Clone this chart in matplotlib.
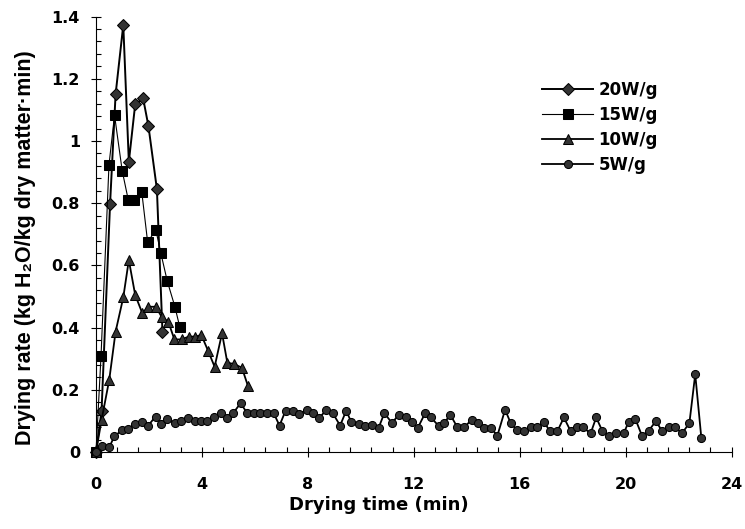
import matplotlib
matplotlib.use("Agg")
import matplotlib.pyplot as plt
from matplotlib.ticker import MultipleLocator, FixedLocator

# ---------------- data ----------------
t20 = [0, 0.21, 0.53, 0.74, 1.03, 1.24, 1.48, 1.78, 1.98, 2.30, 2.51]
r20 = [0, 0.132, 0.796, 1.150, 1.373, 0.933, 1.118, 1.137, 1.048, 0.845, 0.387]

t15 = [0, 0.19, 0.49, 0.70, 0.99, 1.22, 1.44, 1.73, 1.95, 2.26, 2.45, 2.69, 2.98, 3.16]
r15 = [0, 0.309, 0.923, 1.083, 0.904, 0.810, 0.810, 0.835, 0.675, 0.714, 0.639, 0.550, 0.467, 0.403]

t10 = [0, 0.21, 0.50, 0.74, 1.03, 1.24, 1.48, 1.75, 1.98, 2.26, 2.49, 2.73, 2.96, 3.23,
       3.50, 3.73, 3.98, 4.23, 4.48, 4.76, 4.96, 5.21, 5.51, 5.74]
r10 = [0, 0.103, 0.232, 0.387, 0.497, 0.617, 0.505, 0.446, 0.467, 0.467, 0.433, 0.419, 0.362, 0.362,
       0.371, 0.371, 0.376, 0.326, 0.274, 0.382, 0.287, 0.283, 0.271, 0.212]

t5 = [0, 0.21, 0.5, 0.69, 0.98, 1.19, 1.46, 1.72, 1.97, 2.25, 2.47, 2.69, 2.98,
      3.21, 3.48, 3.72, 3.96, 4.21, 4.45, 4.72, 4.95, 5.19, 5.46, 5.71, 5.96, 6.21, 6.46, 6.71, 6.93,
      7.16, 7.44, 7.66, 7.96, 8.19, 8.42, 8.69, 8.94, 9.22, 9.45, 9.63, 9.92, 10.16,
      10.42, 10.67, 10.89, 11.18, 11.43, 11.71, 11.93, 12.15, 12.43, 12.65, 12.94,
      13.15, 13.38, 13.65, 13.90, 14.19, 14.41, 14.66, 14.91, 15.16, 15.45, 15.66, 15.89,
      16.16, 16.42, 16.67, 16.92, 17.14, 17.42, 17.67, 17.92, 18.17, 18.39, 18.68, 18.89,
      19.12, 19.39, 19.64, 19.93,
      20.12, 20.37, 20.62, 20.87, 21.15, 21.38, 21.63, 21.88, 22.13, 22.41, 22.63, 22.86]
r5 = [0, 0.02, 0.015, 0.05, 0.07, 0.073, 0.09, 0.095, 0.085, 0.114, 0.09, 0.105, 0.093,
      0.10, 0.108, 0.10, 0.10, 0.10, 0.112, 0.126, 0.11, 0.126, 0.157, 0.125, 0.125, 0.125, 0.125, 0.125, 0.085,
      0.133, 0.133, 0.123, 0.134, 0.125, 0.109, 0.134, 0.125, 0.085, 0.133, 0.098, 0.09, 0.084,
      0.086, 0.077, 0.125, 0.093, 0.12, 0.111, 0.098, 0.077, 0.125, 0.111, 0.084,
      0.093, 0.12, 0.079, 0.079, 0.104, 0.093, 0.077, 0.077, 0.053, 0.136, 0.093, 0.071,
      0.066, 0.08, 0.08, 0.098, 0.066, 0.066, 0.111, 0.068, 0.079, 0.079, 0.06, 0.111,
      0.068, 0.052, 0.06, 0.06,
      0.098, 0.106, 0.052, 0.068, 0.10, 0.066, 0.079, 0.079, 0.06, 0.093, 0.25, 0.046]

labels = ["20W/g", "15W/g", "10W/g", "5W/g"]
xticks = [0, 4, 8, 12, 16, 20, 24]
yticks = [0, 0.2, 0.4, 0.6, 0.8, 1.0, 1.2, 1.4]
yticklabels = ["0", "0.2", "0.4", "0.6", "0.8", "1", "1.2", "1.4"]

# ---------------- figure ----------------
fig = plt.figure(figsize=(7.45, 5.29), dpi=100)
ax = fig.add_axes([96 / 745, 1 - 452 / 529, 635.5 / 745, 435.4 / 529])

fill = "#333333"
ax.plot(t20, r20, color="black", lw=1.4, marker="D", ms=5.8, mfc=fill, mec="black",
        mew=0.75, clip_on=False, label=labels[0], zorder=3)
ax.plot(t15, r15, color="black", lw=0.8, marker="s", ms=7.2, mfc="black", mec="black",
        mew=0.75, clip_on=False, label=labels[1], zorder=4)
ax.plot(t10, r10, color="black", lw=1.3, marker="^", ms=7.2, mfc=fill, mec="black",
        mew=0.75, clip_on=False, label=labels[2], zorder=5)
ax.plot(t5, r5, color="black", lw=1.3, marker="o", ms=5.8, mfc=fill, mec="black",
        mew=0.75, clip_on=False, label=labels[3], zorder=6)

ax.set_xlim(0, 24)
ax.set_ylim(0, 1.4)
for s in ["top", "right"]:
    ax.spines[s].set_visible(False)
for s in ["left", "bottom"]:
    ax.spines[s].set_linewidth(0.8)

ax.xaxis.set_major_locator(FixedLocator(xticks))
ax.xaxis.set_minor_locator(MultipleLocator(0.8))
ax.yaxis.set_major_locator(FixedLocator(yticks))
ax.yaxis.set_minor_locator(MultipleLocator(0.04))
ax.set_xticklabels([str(v) for v in xticks])
ax.set_yticklabels(yticklabels)

for lab in ax.get_xticklabels() + ax.get_yticklabels():
    lab.set_fontfamily("DejaVu Sans")
    lab.set_fontweight("bold")
    lab.set_fontsize(11.5)

ax.tick_params(axis="both", which="major", direction="inout", length=6.5, width=0.8)
ax.tick_params(axis="both", which="minor", direction="in", length=3.6, width=0.8)
ax.tick_params(axis="x", which="major", pad=14.5)
ax.tick_params(axis="y", which="major", pad=8.3)

ax.set_xlabel("Drying time (min)", fontfamily="DejaVu Sans", fontweight="bold", fontsize=13)
ax.xaxis.label.set_verticalalignment("baseline")
ax.xaxis.set_label_coords((379 - 96) / 635.5, (452 - 510) / 435.4)

ax.set_ylabel("Drying rate (kg H\u2082O/kg dry matter\u00b7min)",
              fontfamily=["Liberation Sans", "DejaVu Sans"], fontweight="bold", fontsize=15.5)
ax.yaxis.label.set_verticalalignment("center")
ax.yaxis.set_label_coords((25 - 96) / 635.5, (452 - 248) / 435.4)

leg = ax.legend(loc="upper left", bbox_to_anchor=(541.7 / 745, 1 - 81 / 529),
                bbox_transform=fig.transFigure, frameon=False, borderpad=0,
                borderaxespad=0, handlelength=3.1, handletextpad=0.3,
                labelspacing=0.42, numpoints=1, markerscale=1.0,
                prop=dict(family="DejaVu Sans", weight="bold", size=12))

fig.savefig("out.png", dpi=100)
